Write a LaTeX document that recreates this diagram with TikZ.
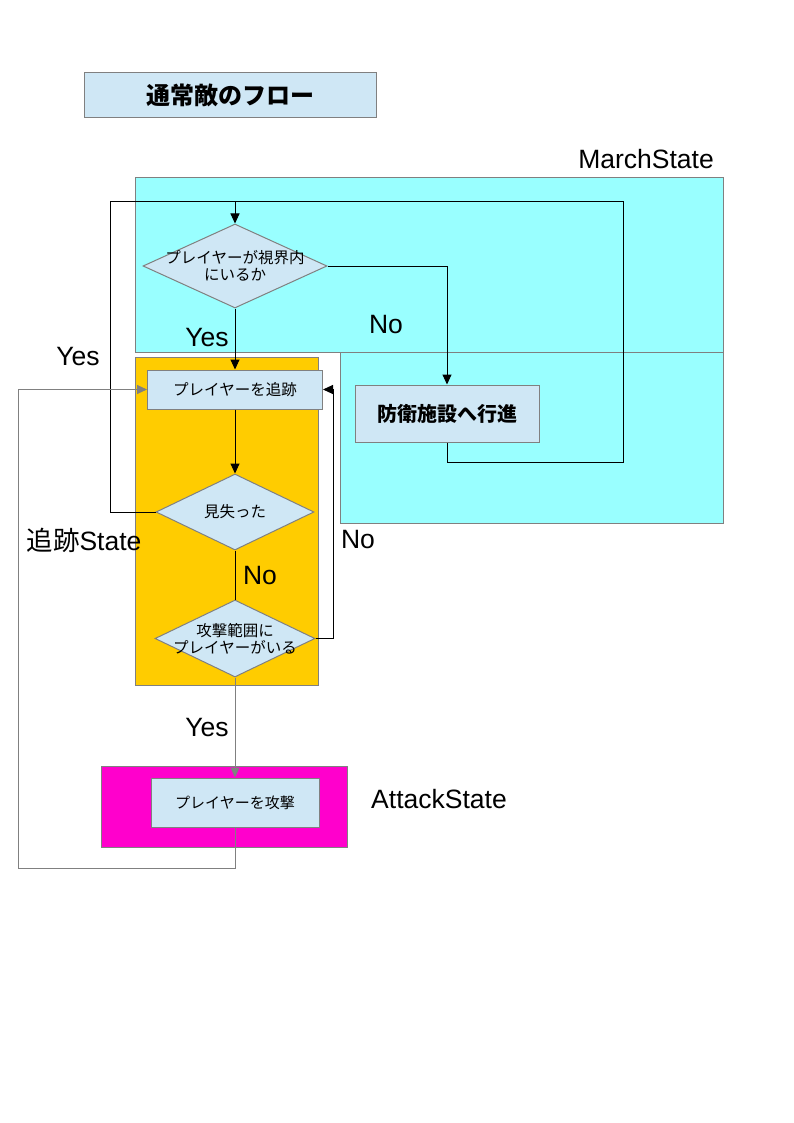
\documentclass[tikz,border=0pt]{standalone}
\usepackage{fontspec}
\setmainfont{Liberation Sans}
\newfontfamily\jp{Noto Sans CJK JP}
\usetikzlibrary{arrows.meta,shapes.geometric,calc}
\definecolor{bgray}{RGB}{128,128,128}
\definecolor{boxblue}{RGB}{207,231,245}
\definecolor{cyanreg}{RGB}{153,255,255}
\definecolor{orangereg}{RGB}{255,204,0}
\definecolor{magentareg}{RGB}{255,0,204}
\begin{document}
\begin{tikzpicture}[x=1pt,y=-1pt,
  region/.style={draw=bgray,line width=1pt},
  proc/.style={draw=bgray,fill=boxblue,line width=1pt,inner sep=0pt,font=\jp\fontsize{15.5}{17}\selectfont},
  dia/.style={diamond,draw=bgray,fill=boxblue,line width=1pt,inner sep=0pt},
  jtext/.style={font=\jp\fontsize{15.5}{17}\selectfont,align=center,inner sep=0pt},
  lbl/.style={font=\fontsize{26.5}{30}\selectfont,inner sep=0pt},
  barrow/.style={black,line width=1pt,-{Triangle[length=10pt,width=9pt]}},
  bline/.style={black,line width=1pt},
  garrow/.style={bgray,line width=1pt,-{Triangle[length=10pt,width=9pt]}},
  gline/.style={bgray,line width=1pt}]
\useasboundingbox (0,0) rectangle (794,1123);
\fill[white] (0,0) rectangle (794,1123);
% regions
\filldraw[region,fill=cyanreg] (135,178) rectangle (723,352);
\filldraw[region,fill=cyanreg] (340,352) rectangle (723,523);
\draw[bgray,line width=1pt] (340,352) -- (723,352);
\filldraw[region,fill=orangereg] (135,357) rectangle (318,685);
\filldraw[region,fill=magentareg] (101,766) rectangle (347,847);
% title
\node[proc,minimum width=292pt,minimum height=45pt,font=\jp\bfseries\fontsize{24}{28}\selectfont] (title) at (230,95.5) {通常敵のフロー};
% nodes
\node[dia,minimum width=184pt,minimum height=84pt] (d1) at (235,266) {};
\node[jtext] (d1t) at (235,266) {プレイヤーが視界内\\にいるか};
\node[proc,minimum width=175pt,minimum height=39pt] (chase) at (235,389.5) {プレイヤーを追跡};
\node[proc,minimum width=184pt,minimum height=57pt,font=\jp\bfseries\fontsize{20}{24}\selectfont] (march) at (447,413.5) {防衛施設へ行進};
\node[dia,minimum width=158pt,minimum height=76pt] (d2) at (235,512) {};
\node[jtext] (d2t) at (235,512) {見失った};
\node[dia,minimum width=160pt,minimum height=77pt] (d3) at (235,638.5) {};
\node[jtext] (d3t) at (235,638.5) {攻撃範囲に\\プレイヤーがいる};
\node[proc,minimum width=168pt,minimum height=49pt,font=\jp\fontsize{15}{17}\selectfont] (attack) at (235,802.5) {プレイヤーを攻撃};
% coordinates
\coordinate (top) at (235,202);
\coordinate (mr) at (623,462);
\coordinate (mt) at (623,202);
\coordinate (yl) at (110,512);
\coordinate (yt) at (110,202);
\coordinate (nr) at (333,638.5);
\coordinate (ab) at (235,868);
\coordinate (al) at (18,868);
% connectors
\draw[barrow] (d1.south) -- (chase.north);
\draw[barrow] (d1.east) -| (march.north);
\draw[bline] (march.south) |- (mr) -- (mt) -- (top);
\draw[barrow] (yl) -- (yt) -- (top) -- (d1.north);
\draw[bline] (d2.west) -- (yl);
\draw[barrow] (chase.south) -- (d2.north);
\draw[bline] (d2.south) -- (d3.north);
\draw[barrow] (d3.east) -- (nr) |- (chase.east);
\draw[garrow] (d3.south) -- (d3.south |- attack.north);
\draw[garrow] (attack.south) -- (ab) -- (al) |- (chase.west);
% labels
\node[lbl] (yes1) at (207,338) {Yes};
\node[lbl] (no1) at (386,325) {No};
\node[lbl] (yes2) at (78,357) {Yes};
\node[lbl] (no2) at (260,576) {No};
\node[lbl] (no3) at (358,540) {No};
\node[lbl] (yes3) at (207,728) {Yes};
\node[lbl] (chst) at (84,540) {{\jp 追跡}State};
\node[lbl] (mst) at (646,159) {MarchState};
\node[lbl] (ast) at (439,799) {AttackState};
\end{tikzpicture}
\end{document}
